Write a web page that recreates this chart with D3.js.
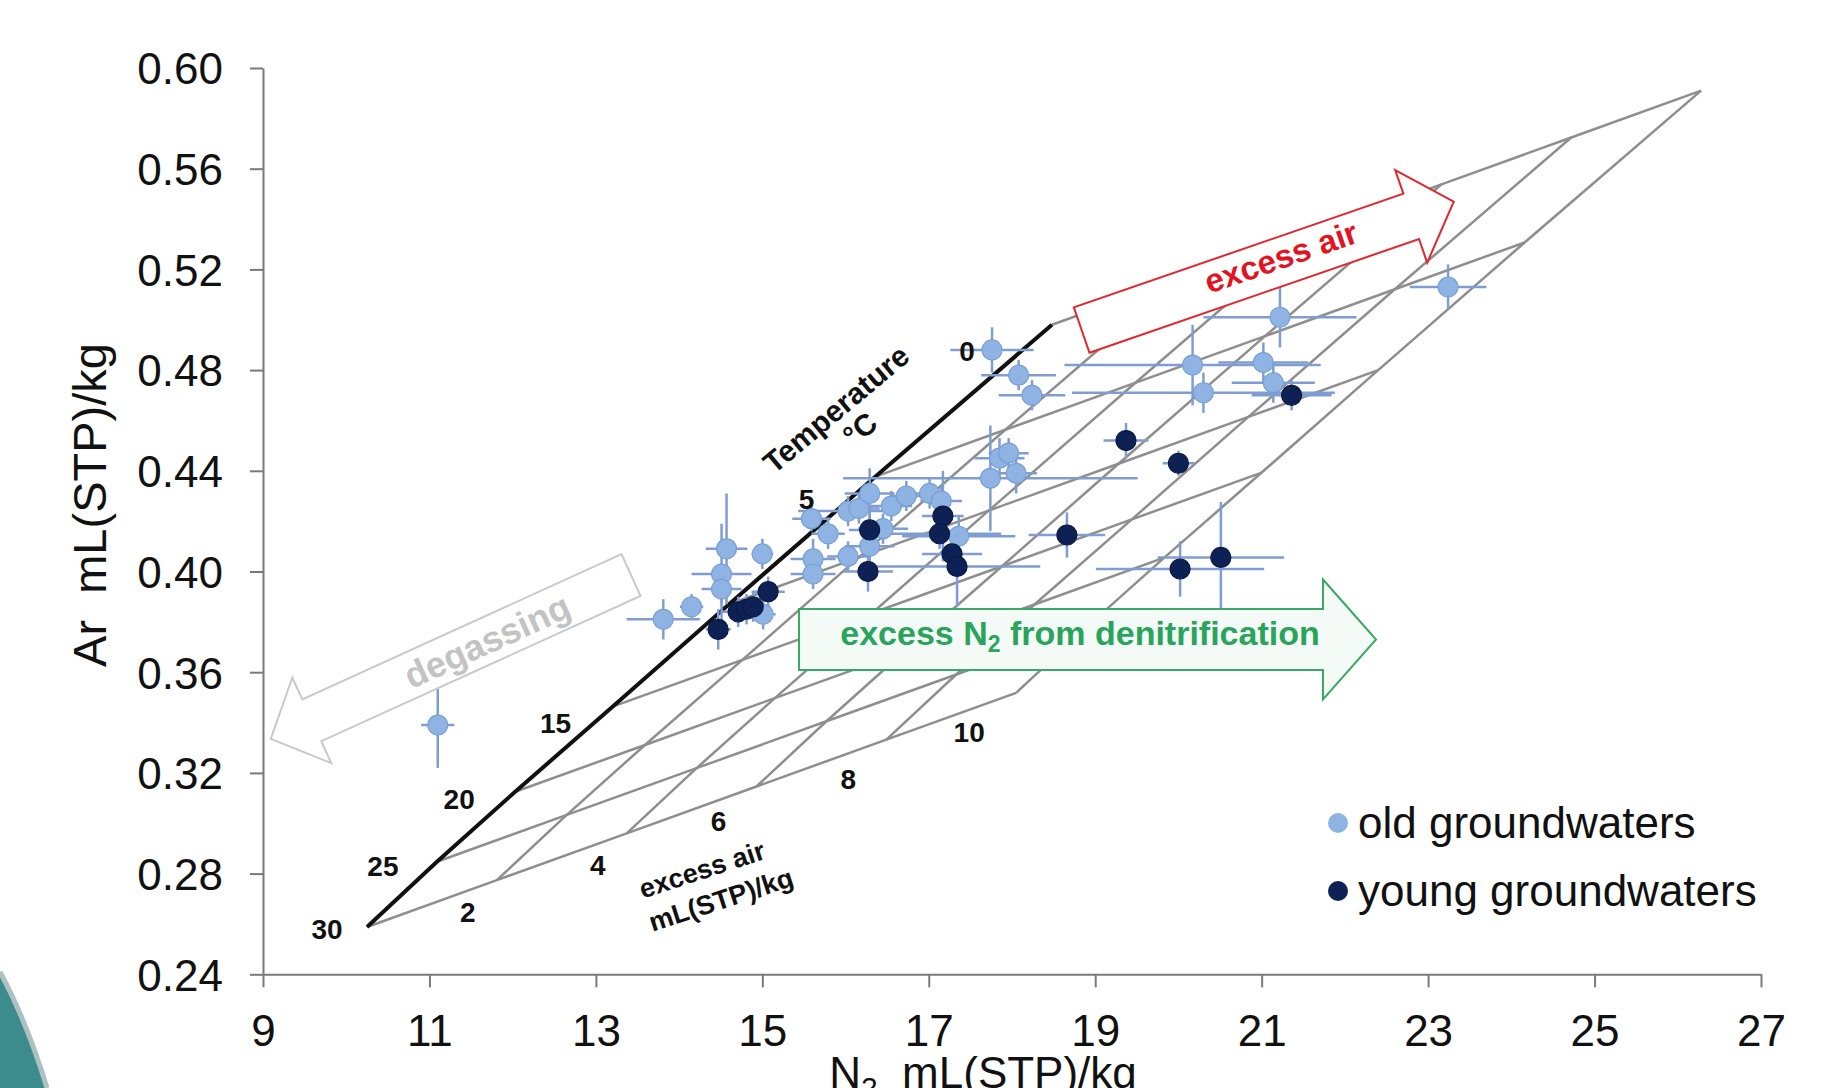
<!DOCTYPE html>
<html>
<head>
<meta charset="utf-8">
<script src="https://cdn.jsdelivr.net/npm/d3@7"></script>
<style>
  body { margin: 0; background: #fff; }
  svg { display: block; font-family: "Liberation Sans", Arial, sans-serif; }
</style>
</head>
<body>
<svg id="chart" width="1839" height="1088"></svg>
<script>
// ---- data ----
const xTicks = [9, 11, 13, 15, 17, 19, 21, 23, 25, 27];
const yTicks = [0.24, 0.28, 0.32, 0.36, 0.40, 0.44, 0.48, 0.52, 0.56, 0.60];

// old groundwaters: N2, Ar and their error half-widths
const oldN2 = [11.10, 13.81, 14.15, 14.57, 14.51, 14.51, 15.00, 15.01, 15.59, 15.61, 15.61, 15.79,
  16.03, 16.16, 16.03, 16.29, 16.29, 16.45, 16.55, 16.73, 17.01, 17.15, 17.36, 17.74,
  17.85, 17.96, 18.05, 17.76, 18.08, 18.24, 20.17, 20.30, 21.22, 21.02, 21.14, 23.24];
const oldAr = [0.339, 0.381, 0.386, 0.409, 0.399, 0.393, 0.407, 0.383, 0.421, 0.405, 0.399, 0.415,
  0.424, 0.425, 0.406, 0.431, 0.410, 0.417, 0.426, 0.430, 0.431, 0.428, 0.414, 0.437,
  0.445, 0.447, 0.439, 0.488, 0.478, 0.470, 0.482, 0.471, 0.501, 0.483, 0.475, 0.513];
const oldN2err = [0.20, 0.44, 0.14, 0.25, 0.36, 0.24, 0.13, 0.15, 0.23, 0.27, 0.27, 0.20,
  0.60, 0.25, 0.25, 0.30, 0.30, 0.30, 0.25, 0.20, 0.19, 0.25, 0.68, 1.77,
  0.30, 0.24, 0.25, 0.50, 0.45, 0.40, 1.54, 1.58, 0.92, 0.54, 0.50, 0.46];
const oldArErr = [0.017, 0.008, 0.005, 0.022, 0.020, 0.006, 0.006, 0.006, 0.005, 0.008, 0.006, 0.006,
  0.006, 0.006, 0.006, 0.010, 0.008, 0.006, 0.006, 0.006, 0.006, 0.006, 0.008, 0.021,
  0.008, 0.006, 0.008, 0.009, 0.006, 0.006, 0.016, 0.008, 0.012, 0.008, 0.008, 0.009];

// young groundwaters
const youngN2 = [14.47, 14.71, 14.81, 14.89, 15.07, 16.29, 16.27, 17.17, 17.13, 17.28, 17.34,
  18.66, 19.37, 20.00, 20.02, 20.51, 21.36];
const youngAr = [0.377, 0.384, 0.385, 0.386, 0.392, 0.4165, 0.400, 0.422, 0.415, 0.407, 0.402,
  0.4145, 0.452, 0.443, 0.401, 0.4056, 0.470];
const youngN2err = [0.15, 0.20, 0.20, 0.20, 0.20, 0.25, 0.30, 0.25, 0.74, 0.36, 1.00,
  0.46, 0.27, 0.19, 1.01, 0.76, 0.48];
const youngArErr = [0.008, 0.006, 0.006, 0.006, 0.006, 0.008, 0.008, 0.018, 0.006, 0.006, 0.016,
  0.009, 0.007, 0.005, 0.011, 0.022, 0.006];

// equilibrium grid: recharge temperature (°C) and excess air (mL(STP)/kg)
const temps = [0, 5, 10, 15, 20, 25, 30];
const eqN2 = [18.48, 16.36, 14.60, 13.20, 12.03, 11.09, 10.25];
const eqAr = [0.498, 0.4377, 0.387, 0.3463, 0.3125, 0.2847, 0.2588];
const excessAir = [0, 2, 4, 6, 8, 10];
const eaN2 = [0, 1.56, 3.12, 4.68, 6.24, 7.80];
const eaAr = [0, 0.0186, 0.0372, 0.0558, 0.0744, 0.093];

// ---- layout ----
const svg = d3.select("#chart");
const x = d3.scaleLinear().domain([9, 27]).range([263, 1761]);
const y = d3.scaleLinear().domain([0.24, 0.60]).range([974.3, 68]);

svg.append("rect").attr("width", 1839).attr("height", 1088).attr("fill", "#fff");

// slide decoration bottom-left
svg.append("path")
  .attr("d", "M0,972 Q27,1022 47,1088 L0,1088 Z")
  .attr("fill", "#3c8c8e");
svg.append("path")
  .attr("d", "M0,972 Q27,1022 47,1088")
  .attr("fill", "none")
  .attr("stroke", "#adc0c2")
  .attr("stroke-width", 5);

// axes
const xAxis = svg.append("g")
  .attr("transform", `translate(0,${y(0.24)})`)
  .call(d3.axisBottom(x).tickValues(xTicks).tickSize(13).tickSizeOuter(0).tickPadding(27)
    .tickFormat(d3.format("d")));
const yAxis = svg.append("g")
  .attr("transform", `translate(${x(9)},0)`)
  .call(d3.axisLeft(y).tickValues(yTicks).tickSize(13).tickSizeOuter(0).tickPadding(27)
    .tickFormat(d3.format(".2f")));
[xAxis, yAxis].forEach((g) => {
  g.select(".domain").attr("stroke", "#7a7a7a").attr("stroke-width", 2);
  g.selectAll(".tick line").attr("stroke", "#7a7a7a").attr("stroke-width", 2);
  g.selectAll(".tick text").attr("font-size", 44).attr("fill", "#111")
    .attr("font-family", "Liberation Sans, Arial, sans-serif");
});
yAxis.selectAll(".tick text").attr("dy", "0.36em");

// axis titles
svg.append("text")
  .attr("transform", `translate(106,${505}) rotate(-90)`)
  .attr("text-anchor", "middle")
  .attr("font-size", 47).attr("fill", "#111")
  .style("white-space", "pre")
  .text("Ar  mL(STP)/kg");
const xt = svg.append("text")
  .attr("x", 983).attr("y", 1088)
  .attr("text-anchor", "middle")
  .attr("font-size", 44).attr("fill", "#111")
  .style("white-space", "pre");
xt.append("tspan").text("N");
xt.append("tspan").attr("font-size", 30).attr("dy", 10).text("2");
xt.append("tspan").attr("dy", -10).text("  mL(STP)/kg");

// ---- grid ----
const node = (ti, ei) => [x(eqN2[ti] + eaN2[ei]), y(eqAr[ti] + eaAr[ei])];
const line = d3.line();
const grid = svg.append("g").attr("fill", "none");
temps.forEach((t, ti) => {
  grid.append("path")
    .attr("d", line(excessAir.map((e, ei) => node(ti, ei))))
    .attr("stroke", "#8e8e8e").attr("stroke-width", 2.5);
});
excessAir.forEach((e, ei) => {
  if (ei === 0) return;
  grid.append("path")
    .attr("d", line(temps.map((t, ti) => node(ti, ei))))
    .attr("stroke", "#8e8e8e").attr("stroke-width", 2.5);
});
grid.append("path")
  .attr("d", line(temps.map((t, ti) => node(ti, 0))))
  .attr("stroke", "#111").attr("stroke-width", 4);

// ---- error bars and points ----
const ERR = "#7f9dd2";
function drawSeries(n2, ar, n2e, are) {
  const g = svg.append("g");
  const rows = n2.map((v, i) => ({ n: v, a: ar[i], ne: n2e[i], ae: are[i] }));
  g.selectAll(".h").data(rows).join("line")
    .attr("x1", (d) => x(d.n - d.ne)).attr("x2", (d) => x(d.n + d.ne))
    .attr("y1", (d) => y(d.a)).attr("y2", (d) => y(d.a))
    .attr("stroke", ERR).attr("stroke-width", 2.5);
  g.selectAll(".v").data(rows).join("line")
    .attr("x1", (d) => x(d.n)).attr("x2", (d) => x(d.n))
    .attr("y1", (d) => y(d.a - d.ae)).attr("y2", (d) => y(d.a + d.ae))
    .attr("stroke", ERR).attr("stroke-width", 2.5);
  return rows;
}
const oldRows = drawSeries(oldN2, oldAr, oldN2err, oldArErr);
const youngRows = drawSeries(youngN2, youngAr, youngN2err, youngArErr);
svg.append("g").selectAll("circle").data(oldRows).join("circle")
  .attr("cx", (d) => x(d.n)).attr("cy", (d) => y(d.a)).attr("r", 10)
  .attr("fill", "#8fb4e3").attr("stroke", "#779fd6").attr("stroke-width", 1.2);
svg.append("g").selectAll("circle").data(youngRows).join("circle")
  .attr("cx", (d) => x(d.n)).attr("cy", (d) => y(d.a)).attr("r", 10)
  .attr("fill", "#0d2154").attr("stroke", "#0a1a44").attr("stroke-width", 1.2);

// ---- block arrows ----
function arrowPts(tail, tip, shaftW, headW, headL) {
  const t = [x(tail[0]), y(tail[1])], p = [x(tip[0]), y(tip[1])];
  const dx = p[0] - t[0], dy = p[1] - t[1], len = Math.hypot(dx, dy);
  const ux = dx / len, uy = dy / len, nx = -uy, ny = ux;
  const bx = p[0] - ux * headL, by = p[1] - uy * headL;
  const s = shaftW / 2, h = headW / 2;
  return [[t[0] + nx * s, t[1] + ny * s], [bx + nx * s, by + ny * s], [bx + nx * h, by + ny * h], p,
    [bx - nx * h, by - ny * h], [bx - nx * s, by - ny * s], [t[0] - nx * s, t[1] - ny * s]];
}
function arrow(tail, tip, shaftW, headW, headL, fill, stroke) {
  svg.append("polygon")
    .attr("points", arrowPts(tail, tip, shaftW, headW, headL).map((q) => q.join(",")).join(" "))
    .attr("fill", fill).attr("stroke", stroke).attr("stroke-width", 2);
}
arrow([13.422, 0.3986], [9.094, 0.3335], 46, 94, 45, "#fff", "#c9c9c9");
arrow([18.837, 0.4959], [23.308, 0.5469], 48, 98, 45, "#fff", "#e2262e");
arrow([15.441, 0.373], [22.374, 0.373], 61, 120, 53, "#f4fbf6", "#3aa866");

svg.append("text")
  .attr("transform", `translate(487,641) rotate(-24.5)`)
  .attr("text-anchor", "middle").attr("dominant-baseline", "central")
  .attr("font-size", 36).attr("font-weight", "bold").attr("fill", "#c3c3c3")
  .text("degassing");
svg.append("text")
  .attr("transform", `translate(1281,257) rotate(-19)`)
  .attr("text-anchor", "middle").attr("dominant-baseline", "central")
  .attr("font-size", 33).attr("font-weight", "bold").attr("fill", "#e3131f")
  .text("excess air");
const gt = svg.append("text")
  .attr("x", 1080).attr("y", 645)
  .attr("text-anchor", "middle")
  .attr("font-size", 34).attr("font-weight", "bold").attr("fill", "#2aa45c");
gt.append("tspan").text("excess N");
gt.append("tspan").attr("font-size", 23).attr("dy", 7).text("2");
gt.append("tspan").attr("dy", -7).text(" from denitrification");

// ---- grid labels ----
const tempLabelOffset = [[-85, 27], [-69, 23], null, [-57, 17], [-56, 8], [-54, 5], [-40, 3]];
const lab = svg.append("g").attr("font-size", 28).attr("font-weight", "bold").attr("fill", "#111")
  .attr("text-anchor", "middle").attr("dominant-baseline", "central");
temps.forEach((t, ti) => {
  const o = tempLabelOffset[ti];
  if (!o) return;
  const [px, py] = node(ti, 0);
  lab.append("text").attr("x", px + o[0]).attr("y", py + o[1]).text(t);
});
const eaLabelOffset = [null, [-29, 32], [-29, 32], [-38, 35], [-38, 40], [-47, 40]];
excessAir.forEach((e, ei) => {
  const o = eaLabelOffset[ei];
  if (!o) return;
  const [px, py] = node(temps.length - 1, ei);
  lab.append("text").attr("x", px + o[0]).attr("y", py + o[1]).text(e);
});
lab.append("text").attr("transform", "translate(836,409) rotate(-40)").attr("font-size", 30).text("Temperature");
lab.append("text").attr("transform", "translate(860,429) rotate(-40)").attr("font-size", 30).text("°C");
lab.append("text").attr("transform", "translate(702,870) rotate(-18)").attr("font-size", 27).text("excess air");
lab.append("text").attr("transform", "translate(721,900) rotate(-18)").attr("font-size", 27).text("mL(STP)/kg");

// ---- legend ----
const legend = [["old groundwaters", "#8fb4e3"], ["young groundwaters", "#0d2154"]];
const lg = svg.append("g").attr("transform", "translate(1338,823)");
legend.forEach(([name, c], i) => {
  lg.append("circle").attr("cx", 0).attr("cy", i * 68).attr("r", 10).attr("fill", c);
  lg.append("text").attr("x", 20).attr("y", i * 68 + 15).attr("font-size", 44).attr("fill", "#111").text(name);
});
</script>
</body>
</html>
